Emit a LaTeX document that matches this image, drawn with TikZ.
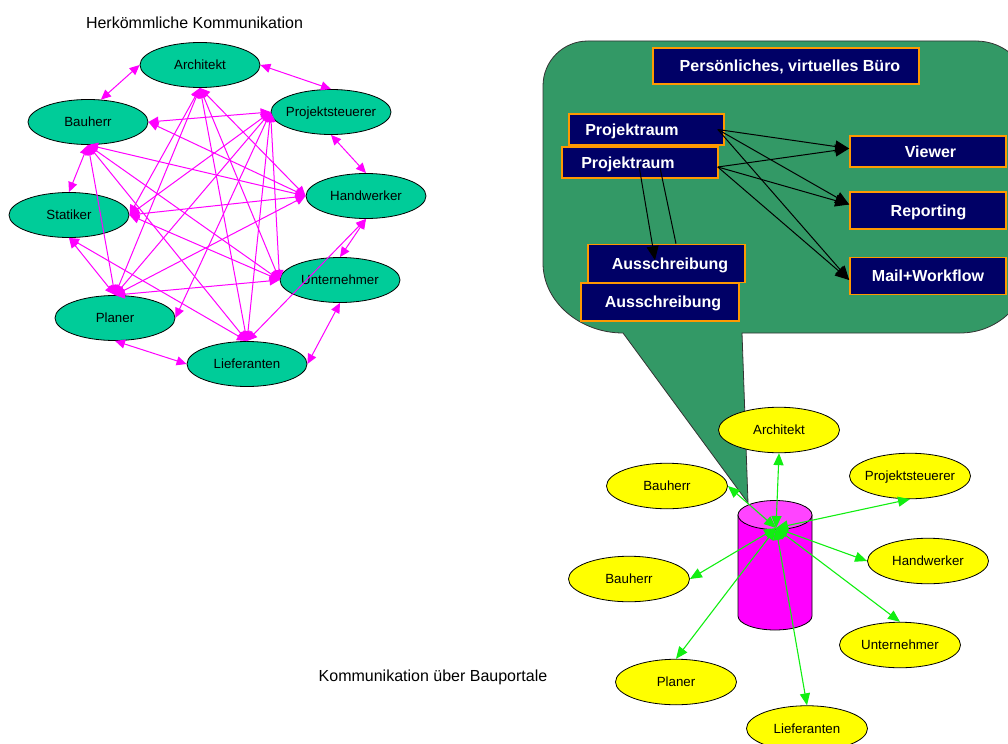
\documentclass[tikz,border=0pt]{standalone}
\usepackage{fontspec}
\setmainfont{Liberation Sans}
\usetikzlibrary{arrows.meta,calc,shapes.geometric}
\definecolor{tealA}{HTML}{00CC99}
\definecolor{magA}{HTML}{FF00FF}
\definecolor{magTop}{HTML}{FF44FF}
\definecolor{callG}{HTML}{339966}
\definecolor{navyA}{HTML}{000066}
\definecolor{orangeA}{HTML}{FF9900}
\definecolor{yellowA}{HTML}{FFFF00}
\definecolor{greenA}{HTML}{11EE11}
\newcommand\zb[1]{\makebox[0pt]{#1}}
\newcommand\zs[2]{\makebox[0pt]{\kern#1\relax #2\kern-#1\relax}}
\begin{document}
\begin{tikzpicture}[x=1bp,y=-1bp,
  lell/.style={ellipse, draw=black, line width=0.8bp, fill=tealA, minimum width=120bp, minimum height=45bp, inner sep=0pt, font=\fontsize{13.3bp}{15bp}\selectfont, text height=9.5bp, text depth=0pt},
  rell/.style={lell, fill=yellowA, minimum width=121bp, minimum height=45.5bp},
  nbox/.style={rectangle, draw=orangeA, line width=1.6bp, fill=navyA, text=white, font=\bfseries\fontsize{16bp}{18bp}\selectfont, inner sep=0pt, text height=11.5bp, text depth=0pt},
  mg/.style={draw=magA, line width=1bp, <->, >={Triangle[length=10bp,width=9bp]}},
  gr/.style={draw=greenA, line width=1.1bp, <->, >={Triangle[length=12bp,width=10bp]}},
  blk/.style={draw=black, line width=1bp, ->, >={Triangle[length=14bp,width=12bp]}},
  ttl/.style={anchor=base, font=\fontsize{16bp}{18bp}\selectfont, inner sep=0pt}
]
\useasboundingbox (0,0) rectangle (1008,744);
\clip (0,0) rectangle (1008,744);

% ---------- left: traditional communication ----------
\node[ttl] (t1) at (194.5,28.3) {Herkömmliche Kommunikation};

\node[lell] (lA)  at (200,65)  {\zb{Architekt}};
\node[lell] (lB)  at (88,122)  {\zb{Bauherr}};
\node[lell] (lP)  at (331,112) {\zb{Projektsteuerer}};
\node[lell] (lH)  at (366,196) {\zb{Handwerker}};
\node[lell] (lS)  at (69,215)  {\zb{Statiker}};
\node[lell] (lU)  at (340,280) {\zb{Unternehmer}};
\node[lell] (lPl) at (115,318) {\zb{Planer}};
\node[lell] (lL)  at (247,364) {\zb{Lieferanten}};

% neighbours on the ring
\draw[mg] (lA.west) -- (lB.60);
\draw[mg] (lA.east) -- (lP.north);
\draw[mg] (lP.south) -- (lH.north);
\draw[mg] (lH.south) -- (lU.north);
\draw[mg] (lU.south) -- (lL.east);
\draw[mg] (lL.west) -- (lPl.south);
\draw[mg] (lPl.north) -- (lS.south);
\draw[mg] (lS.north) -- (lB.south);
% cross connections
\draw[mg] (lA.south) -- (lS.east);
\draw[mg] (lA.south) -- (lPl.north);
\draw[mg] (lA.south) -- (lL.north);
\draw[mg] (lA.south) -- (lU.west);
\draw[mg] (lA.south) -- (lH.west);
\draw[mg] (lP.west) -- (lB.east);
\draw[mg] (lP.west) -- (lS.east);
\draw[mg] (lP.west) -- (lPl.north);
\draw[mg] (lP.west) -- (lPl.east);
\draw[mg] (lP.west) -- (lL.north);
\draw[mg] (lP.west) -- (lU.west);
\draw[mg] (lH.west) -- (lB.east);
\draw[mg] (lH.west) -- (lB.south);
\draw[mg] (lH.west) -- (lS.east);
\draw[mg] (lH.west) -- (lPl.north);
\draw[mg] (lH.south) -- (lL.north);
\draw[mg] (lU.west) -- (lS.east);
\draw[mg] (lU.west) -- (lPl.north);
\draw[mg] (lU.west) -- (lB.south);
\draw[mg] (lL.north) -- (lB.south);
\draw[mg] (lL.north) -- (lS.south);
\draw[mg] (lB.south) -- (lPl.north);

% ---------- right: callout ----------
\draw[fill=callG, draw=black!80, line width=0.8bp]
  (623,333) -- (748,503) -- (742,333) -- (960,333)
  .. controls (999,333) and (1030,302) .. (1030,263)
  -- (1030,95)
  .. controls (1030,65) and (1006,41) .. (976,41)
  -- (588,41)
  .. controls (563,41) and (543,61) .. (543,86)
  -- (543,263)
  .. controls (543,302) and (580,333) .. (623,333) -- cycle;

\node[nbox, minimum width=266bp, minimum height=36bp] (bT) at (786,66) {\zs{4bp}{Persönliches, virtuelles Büro}};
\node[nbox, minimum width=155bp, minimum height=31bp] (bPr1) at (646.5,129.5) {\zs{-14.5bp}{Projektraum}};
\node[nbox, minimum width=156bp, minimum height=31bp] (bPr2) at (640,162.5) {\zs{-12bp}{Projektraum}};
\node[nbox, minimum width=156bp, minimum height=31bp] (bV) at (928,151.5) {\zs{2.5bp}{Viewer}};
\node[nbox, minimum width=156bp, minimum height=37bp] (bR) at (928,210.5) {\zs{0.5bp}{Reporting}};
\node[nbox, minimum width=156bp, minimum height=37bp] (bM) at (928,276) {\zb{Mail+Workflow}};
\node[nbox, minimum width=157bp, minimum height=38bp] (bA1) at (666.5,263.5) {\zs{3.5bp}{Ausschreibung}};
\node[nbox, minimum width=158bp, minimum height=38bp] (bA2) at (660,302) {\zs{3bp}{Ausschreibung}};

\coordinate (s1) at ($(bPr1.east)+(-7,0)$);
\coordinate (s2) at ($(bPr2.east)+(-1,4.5)$);
\coordinate (tV) at ($(bV.west)+(0,-3)$);
\coordinate (tR) at ($(bR.west)+(0,-6)$);
\coordinate (tM) at ($(bM.west)+(0,4)$);
\draw[blk] (s1) -- (tV);
\draw[blk] (s1) -- (tR);
\draw[blk] (s1) -- (tM);
\draw[blk] (s2) -- (tV);
\draw[blk] (s2) -- (tR);
\draw[blk] (s2) -- (tM);
\coordinate (d1) at ($(bPr2.south)+(-1,-13)$);
\coordinate (d2) at ($(bPr2.south)+(20,-11)$);
\coordinate (e1) at ($(bA1.north)+(-11.5,16.5)$);
\coordinate (e2) at ($(bA1.north)+(9.5,0)$);
\draw[blk] (d1) -- (e1);
\draw[draw=black, line width=1bp] (d2) -- (e2);

% ---------- right: portal communication ----------
\node[rell] (rA)  at (779,430) {\zb{Architekt}};
\node[rell] (rP)  at (910,476) {\zb{Projektsteuerer}};
\node[rell] (rB1) at (667,486) {\zb{Bauherr}};
\node[rell] (rH)  at (928,561) {\zb{Handwerker}};
\node[rell] (rB2) at (629,579) {\zb{Bauherr}};
\node[rell] (rU)  at (900,645) {\zb{Unternehmer}};
\node[rell] (rPl) at (676,682) {\zb{Planer}};
\node[rell] (rL)  at (807,728.5) {\zb{Lieferanten}};

% cylinder (portal)
\draw[fill=magA, draw=black, line width=0.8bp]
  (738,515) -- (738,616)
  .. controls (738,623.7) and (754.6,630) .. (775,630)
  .. controls (795.4,630) and (812,623.7) .. (812,616)
  -- (812,515) -- cycle;
\draw[fill=magTop, draw=black, line width=0.8bp] (775,515) ellipse [x radius=37, y radius=14.5];
\coordinate (hub) at (776,528);

\draw[gr] (hub) -- (rA.south);
\draw[gr] (hub) -- (rP.south);
\draw[gr] (hub) -- (rB1.east);
\draw[gr] (hub) -- (rH.west);
\draw[gr] (hub) -- (rB2.east);
\draw[gr] (hub) -- (rU.north);
\draw[gr] (hub) -- (rPl.north);
\draw[gr] (hub) -- (rL.north);

\node[ttl] (t2) at (433,681) {Kommunikation über Bauportale};
\end{tikzpicture}
\end{document}
